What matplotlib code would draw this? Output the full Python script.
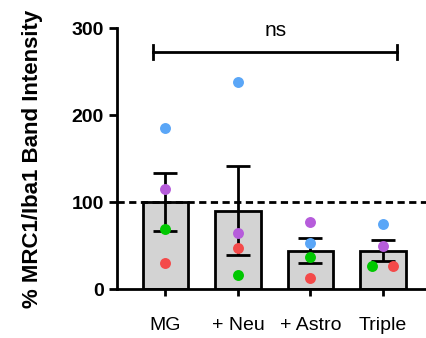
import numpy as np
import matplotlib
matplotlib.use("Agg")
import matplotlib.pyplot as plt

plt.rcParams['font.family'] = ['Liberation Sans', 'DejaVu Sans']

groups = ["MG", "+ Neu", "+ Astro", "Triple"]
means = [100, 90.5, 44.5, 44.5]
sems = [33, 51, 14, 12]

# replicate points per group (blue, purple, green, red)
blue = [185, 238, 53.6, 75.4]
purple = [115.3, 64.4, 77.7, 49.8]
green = [69.7, 16.4, 36.8, 27.1]
red = [30.2, 47.5, 13.0, 27.1]
# horizontal jitter used only where points overlap (Triple)
green_dx = [0, 0, 0, -0.145]
red_dx = [0, 0, 0, 0.145]

colors = {"blue": "#5aa6f7", "purple": "#b65cdb", "green": "#00c800", "red": "#f44a4a"}

fig = plt.figure(figsize=(4.27, 3.38), dpi=100)
ax = fig.add_axes([0.273, 0.144, 0.727, 0.773])

x = np.arange(len(groups))
lw = 2.0

ax.bar(x, means, width=0.63, color="#d3d3d3", edgecolor="black", linewidth=lw, zorder=2)
ax.errorbar(x, means, yerr=sems, fmt="none", ecolor="black", elinewidth=lw,
            capsize=8.5, capthick=lw, zorder=3)

ax.axhline(100, color="black", linestyle=(0, (2.6, 1.6)), linewidth=lw, zorder=4)

ax.scatter(x, blue, s=62, color=colors["blue"], zorder=5, linewidths=0)
ax.scatter(x, purple, s=62, color=colors["purple"], zorder=5, linewidths=0)
ax.scatter(x + np.array(green_dx), green, s=62, color=colors["green"], zorder=5, linewidths=0)
ax.scatter(x + np.array(red_dx), red, s=62, color=colors["red"], zorder=5, linewidths=0)

# significance bracket
ax.plot([-0.177, 3.2], [273, 273], color="black", linewidth=lw, clip_on=False)
for xe in [-0.177, 3.2]:
    ax.plot([xe, xe], [265, 281], color="black", linewidth=lw, clip_on=False)
ax.text(1.52, 286, "ns", ha="center", va="bottom", fontsize=15, clip_on=False)

ax.set_xlim(-0.673, 3.607)
ax.set_ylim(0, 300)
ax.set_yticks([0, 100, 200, 300])
ax.set_xticks(x)
ax.set_xticklabels(groups, fontsize=14)
ax.tick_params(axis="y", labelsize=14, width=lw, length=6, pad=3)
ax.tick_params(axis="x", width=lw, length=5, pad=15)
for lab in ax.get_yticklabels():
    lab.set_fontweight("bold")

ax.spines["top"].set_visible(False)
ax.spines["right"].set_visible(False)
ax.spines["left"].set_linewidth(lw)
ax.spines["bottom"].set_linewidth(lw)

ax.set_ylabel("% MRC1/Iba1 Band Intensity", fontsize=16, fontweight="bold", labelpad=21)

fig.savefig("out.png", dpi=100)
